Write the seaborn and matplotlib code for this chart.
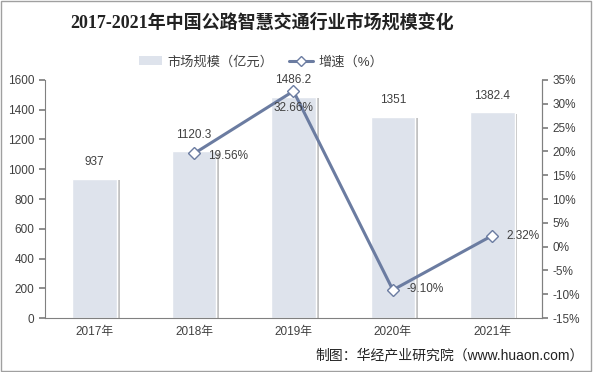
import matplotlib
matplotlib.use("Agg")
import matplotlib.pyplot as plt
import matplotlib.patheffects as pe
from matplotlib.patches import Rectangle, Patch
from matplotlib.lines import Line2D
import pandas as pd
import seaborn as sns

years = ["2017年", "2018年", "2019年", "2020年", "2021年"]
market = [937, 1120.3, 1486.2, 1351, 1382.4]
growth_years = ["2018年", "2019年", "2020年", "2021年"]
growth = [19.56, 32.66, -9.10, 2.32]

bar_color = "#dee3ec"
line_color = "#6b7ca1"
text_color = "#404040"

sns.set_theme(style="white")
plt.rcParams["font.family"] = ["Liberation Sans", "Noto Sans CJK SC"]

df_bar = pd.DataFrame({"year": years, "market": market})
df_line = pd.DataFrame({"pos": [years.index(y) for y in growth_years], "growth": growth})

fig = plt.figure(figsize=(5.93, 3.72), dpi=100)
ax = fig.add_axes([0.0759, 0.145, 0.838, 0.640])

sns.barplot(data=df_bar, x="year", y="market", color=bar_color, width=0.45,
            saturation=1, ax=ax)
for p in ax.patches:
    p.set_path_effects([pe.SimplePatchShadow(offset=(2, -1), shadow_rgbFace="#9a9a9a", alpha=0.6),
                        pe.Normal()])
for i, v in enumerate(market):
    ax.annotate(f"{v:g}", (i, v), xytext=(0, 12), textcoords="offset points",
                ha="center", va="center", fontsize=8.5, color=text_color)

ax.set_xlim(-0.5, 4.5)
ax.set_ylim(0, 1600)
ax.set_yticks(range(0, 1601, 200))
ax.set_xlabel("")
ax.set_ylabel("")
ax.set_xticks([i - 0.5 for i in range(6)], minor=True)
ax.tick_params(axis="x", which="major", length=0, labelsize=8.5, labelcolor=text_color, pad=6)
ax.tick_params(axis="x", which="minor", length=4, color="#808080", direction="out")
ax.tick_params(axis="y", length=4, color="#808080", direction="out", labelsize=8.5,
               labelcolor=text_color, left=True)
ax.spines["top"].set_visible(False)
for s in ["left", "bottom", "right"]:
    ax.spines[s].set_color("#808080")
    ax.spines[s].set_linewidth(0.8)

ax2 = ax.twinx()
sns.lineplot(data=df_line, x="pos", y="growth", color=line_color, linewidth=2.2,
             marker="D", markersize=6, markerfacecolor="white", markeredgecolor=line_color,
             markeredgewidth=1, ax=ax2)
ax2.set_ylim(-15, 35)
ax2.set_yticks(range(-15, 36, 5))
ax2.set_yticklabels([f"{t}%" for t in range(-15, 36, 5)])
ax2.set_xlim(-0.5, 4.5)
ax2.set_xlabel("")
ax2.set_ylabel("")
ax2.tick_params(axis="y", length=4, color="#808080", direction="out", labelsize=8.5,
                labelcolor=text_color, right=True)
for s in ["top", "left", "bottom"]:
    ax2.spines[s].set_visible(False)
ax2.spines["right"].set_color("#808080")
ax2.spines["right"].set_linewidth(0.8)

offsets = {"2018年": (10, -2, "left"), "2019年": (0, -12, "center"),
           "2020年": (10, 1, "left"), "2021年": (10, 0, "left")}
for y, g in zip(growth_years, growth):
    dx, dy, ha = offsets[y]
    ax2.annotate(f"{g:.2f}%", (years.index(y), g), xytext=(dx, dy), textcoords="offset points",
                 ha=ha, va="center", fontsize=8.5, color=text_color)

fig.text(0.442, 0.94, "2017-2021年中国公路智慧交通行业市场规模变化", ha="center", va="center",
         fontsize=13, fontweight="bold", color="#222222",
         family=["Liberation Serif", "Noto Sans CJK SC"])

handles = [Patch(facecolor=bar_color, edgecolor="none"),
           Line2D([0], [0], color=line_color, linewidth=2.2, marker="D", markersize=5,
                  markerfacecolor="white", markeredgecolor=line_color)]
fig.legend(handles, ["市场规模（亿元）", "增速（%）"], loc="center", bbox_to_anchor=(0.44, 0.833),
           ncol=2, frameon=False, fontsize=9.5, handlelength=1.8, handletextpad=0.4,
           columnspacing=1.2, labelcolor=text_color)

fig.text(0.985, 0.045, "制图：华经产业研究院（www.huaon.com）", ha="right", va="center",
         fontsize=10, color="#222222")

fig.add_artist(Rectangle((0.002, 0.003), 0.995, 0.994, transform=fig.transFigure,
                         fill=False, edgecolor="#a0a0a0", linewidth=1))

fig.savefig("out.png", dpi=100)
